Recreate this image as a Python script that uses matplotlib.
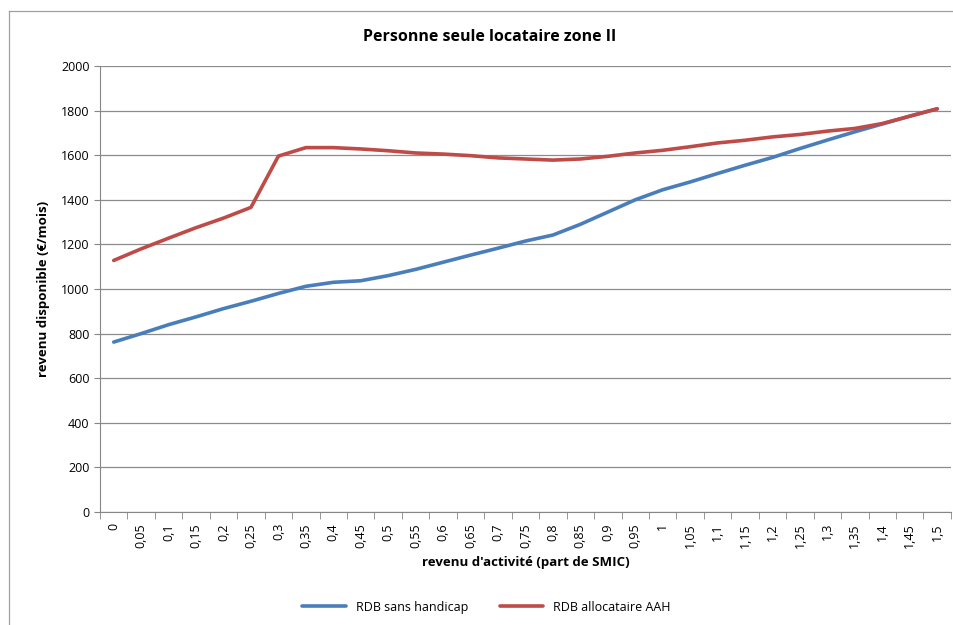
import numpy as np
import matplotlib
matplotlib.use("Agg")
import matplotlib.pyplot as plt
from matplotlib.lines import Line2D

plt.rcParams['font.family'] = ['Open Sans', 'DejaVu Sans']

x_labels = ['0', '0,05', '0,1', '0,15', '0,2', '0,25', '0,3', '0,35', '0,4', '0,45',
            '0,5', '0,55', '0,6', '0,65', '0,7', '0,75', '0,8', '0,85', '0,9', '0,95',
            '1', '1,05', '1,1', '1,15', '1,2', '1,25', '1,3', '1,35', '1,4', '1,45', '1,5']

sans_handicap = [762, 800, 840, 875, 912, 945, 980, 1012, 1030, 1037,
                 1060, 1088, 1120, 1152, 1183, 1215, 1242, 1290, 1345, 1400,
                 1445, 1480, 1518, 1555, 1590, 1630, 1668, 1705, 1740, 1775, 1808]
allocataire_aah = [1128, 1180, 1228, 1275, 1318, 1366, 1596, 1634, 1634, 1628,
                   1620, 1610, 1605, 1598, 1588, 1583, 1578, 1583, 1595, 1610,
                   1622, 1638, 1655, 1667, 1682, 1693, 1708, 1720, 1742, 1775, 1808]

fig = plt.figure(figsize=(9.54, 6.25), dpi=100)
ax = fig.add_axes([0.1048, 0.1808, 0.892, 0.7136])

x = np.arange(len(x_labels))
ax.plot(x, sans_handicap, color='#4a7ebb', lw=2.6, label='RDB sans handicap', solid_capstyle='round')
ax.plot(x, allocataire_aah, color='#be4b48', lw=2.6, label='RDB allocataire AAH', solid_capstyle='round')

ax.set_xlim(-0.5, len(x_labels) - 0.5)
ax.set_ylim(0, 2000)
ax.set_yticks(range(0, 2001, 200))
ax.tick_params(axis='y', labelsize=9, length=4, color='#868686')
ax.yaxis.grid(True, color='#8c8c8c', lw=0.9)
ax.set_axisbelow(True)

ax.set_xticks(x)
ax.set_xticklabels(x_labels, rotation=90, fontsize=9)
ax.tick_params(axis='x', which='major', length=0, pad=8)
ax.set_xticks(np.arange(-0.5, len(x_labels)), minor=True)
ax.tick_params(axis='x', which='minor', length=5, color='#868686')

for s in ['top', 'right']:
    ax.spines[s].set_visible(False)
for s in ['left', 'bottom']:
    ax.spines[s].set_color('#868686')

fig.text(490 / 954, 1 - 37 / 625, 'Personne seule locataire zone II', fontsize=11.5,
         fontweight='bold', ha='center', va='center')
ax.set_ylabel('revenu disponible (€/mois)', fontsize=9.5, fontweight='bold', labelpad=8)
ax.set_xlabel("revenu d'activité (part de SMIC)", fontsize=9.5, fontweight='bold', labelpad=6)

fig.legend(loc='lower center', bbox_to_anchor=(0.51, 0.0), ncol=2, frameon=False,
           fontsize=9, handlelength=3.5, columnspacing=2.5)

# chart frame: only left and top edges are visible in the crop
top = 1 - 11 / 625
left = 9 / 954
fig.lines.append(Line2D([left, left], [0, top], transform=fig.transFigure, color='#a0a0a0', lw=0.9))
fig.lines.append(Line2D([left, 1], [top, top], transform=fig.transFigure, color='#a0a0a0', lw=0.9))

fig.savefig('out.png', dpi=100)
